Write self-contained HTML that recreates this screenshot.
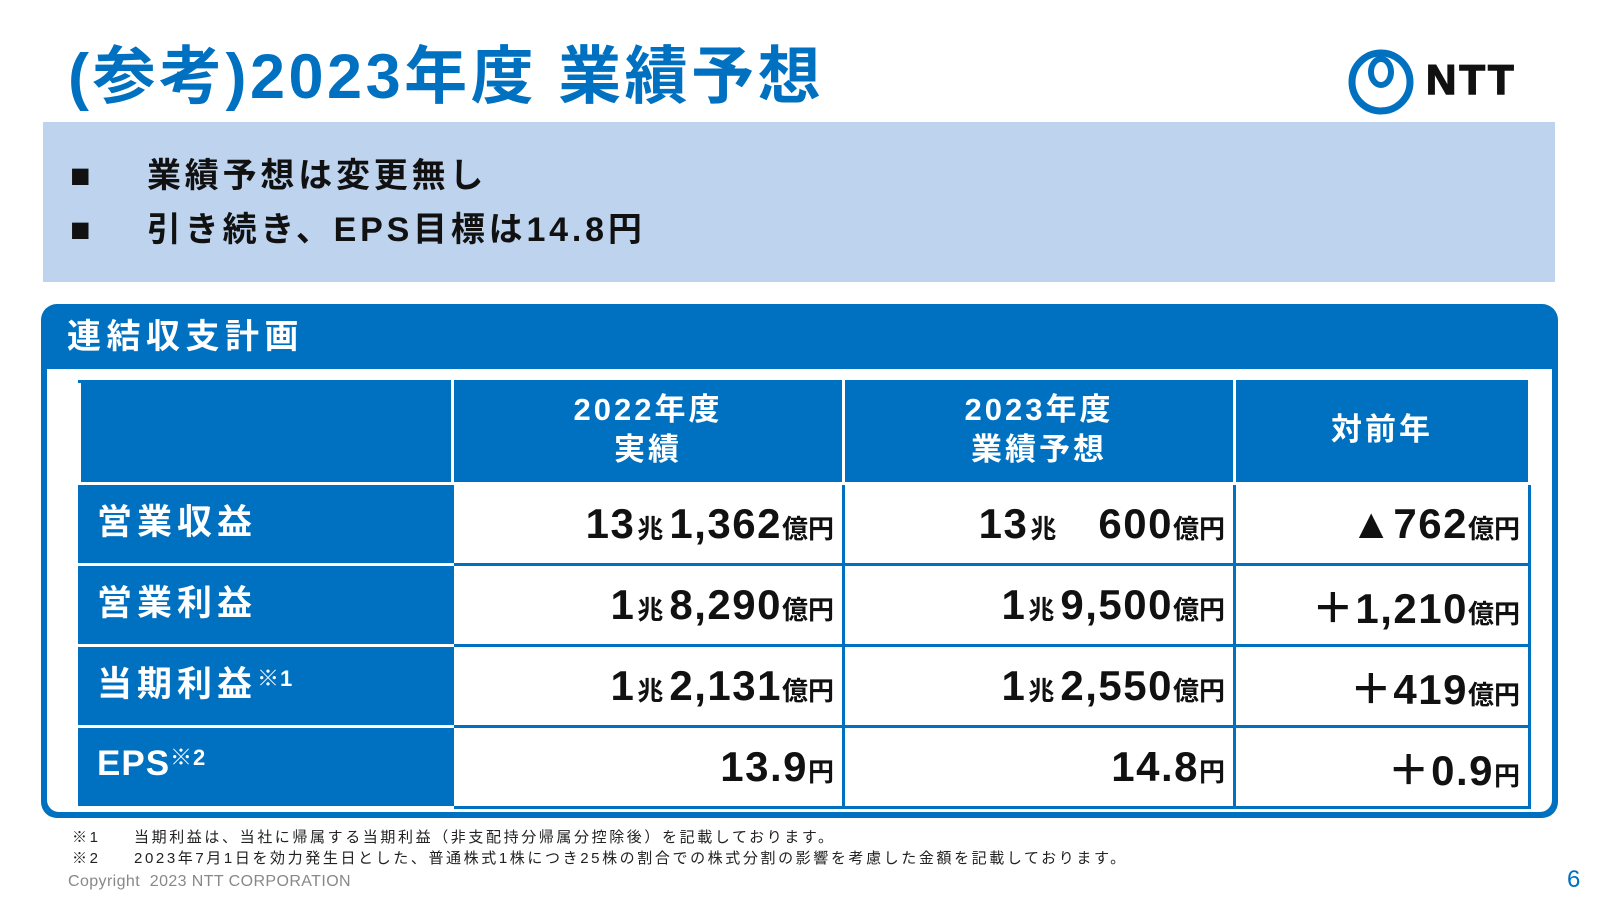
<!DOCTYPE html>
<html><head><meta charset="utf-8"><style>
*{margin:0;padding:0;box-sizing:border-box}
body{width:1600px;height:900px;background:#fff;position:relative;overflow:hidden;font-family:"Liberation Sans","Noto Sans CJK JP",sans-serif}
.a{position:absolute;white-space:nowrap}
.title{left:68px;top:32px;font-size:63px;font-weight:bold;color:#0070c0;letter-spacing:3.5px;line-height:90px}
.lb{left:43px;top:122px;width:1512px;height:160px;background:#bdd3ee}
.bul{font-size:34px;font-weight:bold;color:#111;line-height:40px;letter-spacing:3.8px}
.panel{left:41px;top:304px;width:1517px;height:514px;background:#0070c0;border-radius:16px}
.inner{left:47px;top:369px;width:1505px;height:443px;background:#fff;border-radius:0 0 12px 12px}
.ptitle{left:67px;top:312px;font-size:34px;font-weight:bold;color:#fff;line-height:50px;letter-spacing:5.5px}
table{position:absolute;left:78px;top:380px;border-collapse:collapse;table-layout:fixed}
td{height:81px;border:3px solid #0070c0;font-weight:bold;color:#111;text-align:right;padding-right:8px;white-space:nowrap}
td.h{background:#0070c0;color:#fff;text-align:center;font-size:31px;line-height:40px;border-color:#0070c0 #fff #fff #fff;padding:0 0 6px 0;letter-spacing:3px}
td.l{background:#0070c0;color:#fff;text-align:left;font-size:35px;padding-left:16px;padding-bottom:10px;border-bottom-color:#fff;letter-spacing:5px}
.n{font-size:42px;letter-spacing:1.5px}
.u{font-size:26px}
.k{font-size:26px;margin:0 6px 0 2px}
sup{font-size:22px;vertical-align:10px;letter-spacing:1px}
.fn{font-size:15px;color:#222;line-height:20px;letter-spacing:2.6px}
</style></head><body>
<div class="a title">(参考)2023年度 業績予想</div>
<svg class="a" style="left:1348px;top:48px" width="72" height="70" viewBox="0 0 72 70"><ellipse cx="33" cy="34" rx="29" ry="29" fill="none" stroke="#0070c0" stroke-width="7"/><ellipse cx="33" cy="24" rx="10" ry="13" fill="none" stroke="#0070c0" stroke-width="6"/></svg>
<div class="a" style="left:1426px;top:56px;font-size:42px;font-weight:900;color:#111;font-family:'Liberation Sans',sans-serif;letter-spacing:3px;-webkit-text-stroke:1.5px #111">NTT</div>
<div class="a lb"></div>
<div class="a bul" style="left:70px;top:156px">■</div>
<div class="a bul" style="left:147px;top:156px">業績予想は変更無し</div>
<div class="a bul" style="left:70px;top:210px">■</div>
<div class="a bul" style="left:147px;top:210px">引き続き、EPS目標は14.8円</div>
<div class="a panel"></div>
<div class="a inner"></div>
<div class="a ptitle">連結収支計画</div>
<table>
<colgroup><col style="width:373px"><col style="width:391px"><col style="width:391px"><col style="width:295px"></colgroup>
<tr><td class="h" style="height:102px"></td><td class="h">2022年度<br>実績</td><td class="h">2023年度<br>業績予想</td><td class="h">対前年</td></tr>
<tr><td class="l">営業収益</td><td><span class="n">13</span><span class="k">兆</span><span class="n">1,362</span><span class="u">億円</span></td><td><span class="n">13</span><span class="k">兆</span><span class="n" style="margin-left:36px">600</span><span class="u">億円</span></td><td><span class="n">▲762</span><span class="u">億円</span></td></tr>
<tr><td class="l">営業利益</td><td><span class="n">1</span><span class="k">兆</span><span class="n">8,290</span><span class="u">億円</span></td><td><span class="n">1</span><span class="k">兆</span><span class="n">9,500</span><span class="u">億円</span></td><td><span class="n">＋1,210</span><span class="u">億円</span></td></tr>
<tr><td class="l">当期利益<sup>※1</sup></td><td><span class="n">1</span><span class="k">兆</span><span class="n">2,131</span><span class="u">億円</span></td><td><span class="n">1</span><span class="k">兆</span><span class="n">2,550</span><span class="u">億円</span></td><td><span class="n">＋419</span><span class="u">億円</span></td></tr>
<tr><td class="l" style="letter-spacing:1px">EPS<sup>※2</sup></td><td><span class="n">13.9</span><span class="u">円</span></td><td><span class="n">14.8</span><span class="u">円</span></td><td><span class="n">＋0.9</span><span class="u">円</span></td></tr>
</table>
<div class="a fn" style="left:72px;top:828px">※1</div>
<div class="a fn" style="left:134px;top:828px">当期利益は、当社に帰属する当期利益（非支配持分帰属分控除後）を記載しております。</div>
<div class="a fn" style="left:72px;top:849px">※2</div>
<div class="a fn" style="left:134px;top:849px">2023年7月1日を効力発生日とした、普通株式1株につき25株の割合での株式分割の影響を考慮した金額を記載しております。</div>
<div class="a" style="left:68px;top:873px;font-size:16px;color:#888;letter-spacing:0.4px">Copyright&nbsp; 2023 NTT CORPORATION</div>
<div class="a" style="left:1567px;top:866px;font-size:24px;color:#0070c0">6</div>
</body></html>
